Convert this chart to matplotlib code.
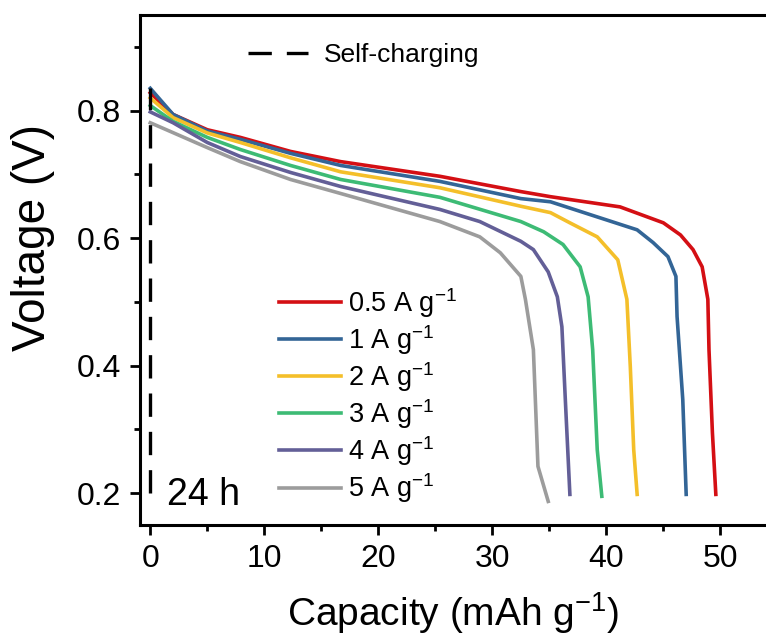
import matplotlib
matplotlib.use('Agg')
import matplotlib.pyplot as plt
from matplotlib.ticker import MultipleLocator

plt.rcParams['font.family'] = ['Liberation Sans', 'DejaVu Sans']
plt.rcParams['mathtext.fontset'] = 'custom'
plt.rcParams['mathtext.rm'] = 'Liberation Sans'
plt.rcParams['mathtext.it'] = 'Liberation Sans:italic'

# discharge curves (capacity mAh/g, voltage V)
red_c = [0, 2.0, 5.0, 7.9, 12.3, 16.7, 25.4, 32.5, 35.1, 41.2, 45.0, 46.5, 47.6, 48.4, 48.9, 49.0, 49.3, 49.6]
red_v = [0.828, 0.794, 0.770, 0.758, 0.736, 0.720, 0.697, 0.673, 0.665, 0.649, 0.624, 0.605, 0.582, 0.555, 0.504, 0.425, 0.295, 0.198]

blue_c = [0, 2.0, 5.0, 7.9, 12.3, 16.7, 25.4, 32.5, 35.1, 42.7, 44.1, 45.4, 46.1, 46.2, 46.7, 47.0]
blue_v = [0.835, 0.794, 0.768, 0.755, 0.733, 0.714, 0.689, 0.662, 0.657, 0.613, 0.593, 0.571, 0.540, 0.477, 0.347, 0.198]

yel_c = [0, 2.0, 5.0, 7.9, 12.3, 16.7, 25.4, 32.5, 35.1, 36.8, 39.2, 41.0, 41.8, 42.1, 42.4, 42.7]
yel_v = [0.820, 0.789, 0.765, 0.750, 0.726, 0.704, 0.679, 0.650, 0.640, 0.624, 0.602, 0.566, 0.504, 0.398, 0.268, 0.198]

grn_c = [0, 2.0, 5.0, 7.9, 12.3, 16.7, 25.4, 32.5, 34.5, 36.2, 37.7, 38.4, 38.8, 39.2, 39.6]
grn_v = [0.808, 0.783, 0.758, 0.739, 0.714, 0.692, 0.664, 0.626, 0.610, 0.590, 0.555, 0.508, 0.425, 0.268, 0.195]

pur_c = [0, 2.0, 5.0, 7.9, 12.3, 16.7, 25.4, 28.9, 32.5, 33.6, 34.9, 35.7, 36.1, 36.4, 36.8]
pur_v = [0.798, 0.781, 0.750, 0.728, 0.703, 0.681, 0.645, 0.626, 0.595, 0.582, 0.547, 0.508, 0.461, 0.347, 0.198]

gry_c = [0, 1.8, 5.0, 7.9, 12.3, 16.7, 25.4, 28.9, 30.7, 32.5, 32.9, 33.6, 34.0, 34.9]
gry_v = [0.781, 0.767, 0.742, 0.720, 0.692, 0.670, 0.626, 0.602, 0.577, 0.540, 0.504, 0.425, 0.242, 0.187]

# self-charging (24 h) shown as a vertical dashed line at zero capacity
self_c = [0, 0]
self_v = [0.20, 0.836]

labels = ['0.5 A g$^{-1}$', '1 A g$^{-1}$', '2 A g$^{-1}$', '3 A g$^{-1}$', '4 A g$^{-1}$', '5 A g$^{-1}$']
colors = ['#D40F14', '#336596', '#F4BF2A', '#3DBB75', '#635F97', '#9C9C9C']

fig = plt.figure(figsize=(7.66, 6.44), dpi=100)
ax = fig.add_axes([140/766, 1 - 525/644, 1 - 140/766, 510/644])

series = [(red_c, red_v), (blue_c, blue_v), (yel_c, yel_v), (grn_c, grn_v), (pur_c, pur_v), (gry_c, gry_v)]
handles = []
for (c, v), lab, col in zip(series, labels, colors):
    h, = ax.plot(c, v, color=col, lw=2.6, label=lab, solid_joinstyle='round')
    handles.append(h)

hs, = ax.plot(self_c, self_v, color='black', lw=2.4, dashes=(7, 4.5), label='Self-charging')

ax.set_xlim(-0.9, 54.0)
ax.set_ylim(0.15, 0.95)
ax.xaxis.set_major_locator(MultipleLocator(10))
ax.xaxis.set_minor_locator(MultipleLocator(5))
ax.yaxis.set_minor_locator(MultipleLocator(0.1))
ax.set_yticks([0.2, 0.4, 0.6, 0.8])
ax.set_yticklabels(['0.2', '0.4', '0.6', '0.8'])

for s in ['left', 'bottom', 'top']:
    ax.spines[s].set_linewidth(2.2)
ax.spines['right'].set_visible(False)
ax.tick_params(which='major', direction='out', length=7.5, width=2.0, labelsize=23, pad=6)
ax.tick_params(which='minor', direction='out', length=4.5, width=2.0)

ax.set_xlabel('Capacity (mAh g$^{-1}$)', fontsize=28, labelpad=12)
ax.set_ylabel('Voltage (V)', fontsize=33)
ax.yaxis.set_label_coords(-0.135, 0.563)

leg1 = ax.legend(handles=handles, loc='upper left', bbox_to_anchor=(0.205, 0.49), frameon=False,
                 fontsize=19.5, handlelength=2.3, handletextpad=0.25, labelspacing=0.12, borderaxespad=0)
ax.add_artist(leg1)
ax.legend(handles=[hs], loc='upper left', bbox_to_anchor=(0.155, 0.965), frameon=False,
          fontsize=19, handlelength=2.3, handletextpad=0.6, borderaxespad=0)

ax.text(0.043, 0.04, '24 h', transform=ax.transAxes, fontsize=27, ha='left', va='baseline')

fig.savefig('out.png', dpi=100)
